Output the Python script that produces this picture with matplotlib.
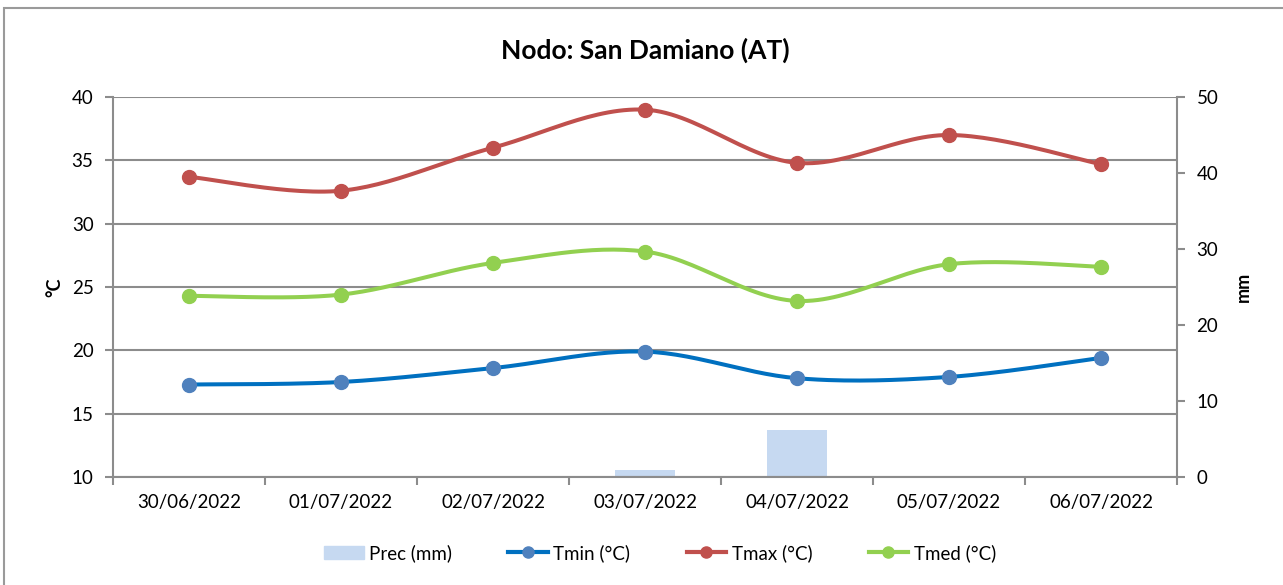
import numpy as np
import matplotlib
matplotlib.use("Agg")
import matplotlib.pyplot as plt
from matplotlib.patches import Rectangle
from matplotlib.lines import Line2D

plt.rcParams['font.family'] = ['Lato', 'DejaVu Sans']

DATES = ["30/06/2022", "01/07/2022", "02/07/2022", "03/07/2022",
         "04/07/2022", "05/07/2022", "06/07/2022"]
PREC = [0.0, 0.0, 0.0, 0.9, 6.2, 0.0, 0.0]
TMIN = [17.3, 17.5, 18.6, 19.9, 17.8, 17.9, 19.4]
TMAX = [33.7, 32.6, 36.0, 39.0, 34.8, 37.0, 34.7]
TMED = [24.3, 24.4, 26.9, 27.8, 23.9, 26.8, 26.6]

GRID = "#8c8c8c"


def smooth(xs, ys, n=30):
    # Excel-style smoothed line: cubic bezier through the points
    p = np.column_stack([xs, ys]).astype(float)
    pp = np.vstack([p[0], p, p[-1]])
    out = []
    for i in range(len(p) - 1):
        p0, p1, p2, p3 = pp[i], pp[i + 1], pp[i + 2], pp[i + 3]
        c1 = p1 + (p2 - p0) / 6
        c2 = p2 - (p3 - p1) / 6
        t = np.linspace(0, 1, n)[:, None]
        seg = ((1 - t) ** 3) * p1 + 3 * ((1 - t) ** 2) * t * c1 + 3 * (1 - t) * t ** 2 * c2 + t ** 3 * p2
        out.append(seg if i == 0 else seg[1:])
    out = np.vstack(out)
    return out[:, 0], out[:, 1]


fig = plt.figure(figsize=(12.83, 5.85), dpi=100)
fig.patches.append(Rectangle((4 / 1283, -0.05), 1.2, 1 - 8 / 585 + 0.05, transform=fig.transFigure,
                             fill=False, edgecolor="#9a9a9a", linewidth=1.5))

ax = fig.add_axes([113 / 1283, 1 - 477 / 585, (1177 - 113) / 1283, (477 - 97) / 585])
ax2 = ax.twinx()
ax.set_zorder(2)
ax.patch.set_visible(False)
ax2.set_zorder(1)

x = np.arange(len(DATES))
ax2.bar(x, PREC, width=0.4, color="#c6d9f1", zorder=1)
ax2.set_ylim(0, 50)
ax2.set_yticks(range(0, 51, 10))
ax2.set_ylabel("mm", fontsize=13, fontweight="bold", labelpad=12)

series = [(TMIN, "#0070c0", "#4f81bd", "Tmin (°C)"),
          (TMAX, "#c0504d", "#c0504d", "Tmax (°C)"),
          (TMED, "#92d050", "#92d050", "Tmed (°C)")]
for vals, lc, mc, name in series:
    sx, sy = smooth(x, vals)
    ax.plot(sx, sy, color=lc, linewidth=2.9, zorder=3, solid_capstyle="round")
    ax.plot(x, vals, "o", color=mc, markersize=10, zorder=4)

ax.set_xlim(-0.5, len(DATES) - 0.5)
ax.set_ylim(10, 40)
ax.set_yticks(range(10, 41, 5))
ax.grid(axis="y", color=GRID, linewidth=1.5, zorder=0)
ax.set_axisbelow(True)
ax.set_ylabel("°C", fontsize=13, fontweight="bold", labelpad=6)

ax.set_xticks(np.arange(-0.5, len(DATES), 1))
ax.set_xticklabels([])
ax.set_xticks(x, minor=True)
ax.set_xticklabels(DATES, minor=True)
ax.tick_params(axis="x", which="minor", length=0, pad=12, labelsize=13.5)
ax.tick_params(axis="x", which="major", length=6, color=GRID, width=1.5, direction="out")
ax.tick_params(axis="y", length=6, color=GRID, width=1.5, labelsize=13.5, pad=8)
ax2.tick_params(axis="y", length=6, color=GRID, width=1.5, labelsize=13.5, pad=8)

for a in (ax, ax2):
    for s in a.spines.values():
        s.set_visible(False)
ax.spines["left"].set_visible(True)
ax.spines["bottom"].set_visible(True)
ax2.spines["right"].set_visible(True)
for s in (ax.spines["left"], ax.spines["bottom"], ax2.spines["right"]):
    s.set_color(GRID)
    s.set_linewidth(1.5)

fig.text(645 / 1283, 1 - 50 / 585, "Nodo: San Damiano (AT)", ha="center", va="center",
         fontsize=19, fontweight="bold")

handles = [Rectangle((0, 0), 1, 1, color="#c6d9f1")]
for vals, lc, mc, name in series:
    handles.append(Line2D([], [], color=lc, linewidth=3, marker="o", markersize=8,
                          markerfacecolor=mc, markeredgecolor=mc))
labels = ["Prec (mm)"] + [s[3] for s in series]
fig.legend(handles, labels, loc="center", bbox_to_anchor=(660 / 1283, 1 - 553 / 585), ncol=4,
           frameon=False, fontsize=13.5, handlelength=2.1, columnspacing=3.0, handletextpad=0.3)

fig.savefig("out.png", dpi=100)
